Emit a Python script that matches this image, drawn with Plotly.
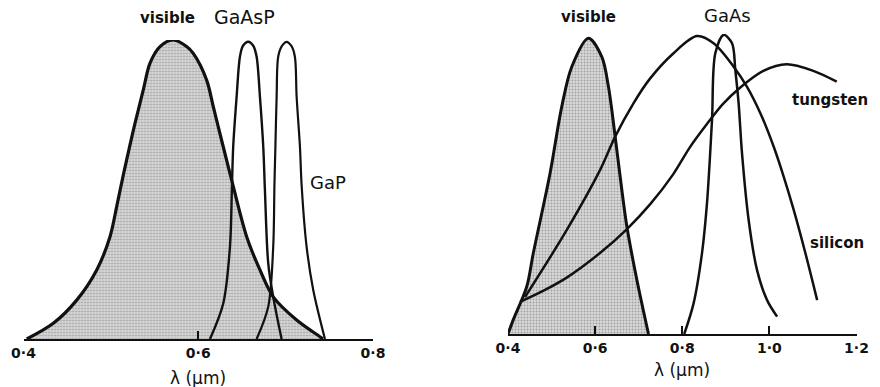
import plotly.graph_objects as go

# ---------------- Left panel data (wavelength in um, relative response) ----------------
vis_left_x = [0.4037, 0.4341, 0.4609, 0.4838, 0.4990, 0.5070, 0.5150, 0.5219, 0.5276, 0.5371, 0.5447, 0.5562,
              0.5714, 0.5867, 0.5943, 0.6096, 0.6172, 0.6286, 0.6382, 0.6554, 0.6706, 0.6858,
              0.7126, 0.7392, 0.7427]
vis_left_y = [0.0, 0.0525, 0.130, 0.231, 0.342, 0.448, 0.559, 0.649, 0.721, 0.833, 0.922, 0.978,
              1.0, 0.978, 0.955, 0.866, 0.777, 0.643, 0.532, 0.342, 0.231, 0.141,
              0.0635, 0.0077, 0.0]

gaasp_x = [0.6134, 0.6286, 0.6363, 0.6386, 0.6400, 0.6439, 0.6477, 0.6511, 0.6572, 0.6631,
           0.6668, 0.6706, 0.6744, 0.6763, 0.6801, 0.6858, 0.6954]
gaasp_y = [0.0, 0.119, 0.309, 0.515, 0.643, 0.810, 0.944, 0.980, 0.994, 0.980,
           0.944, 0.810, 0.643, 0.498, 0.253, 0.141, 0.0]

gap_x = [0.6668, 0.6801, 0.6858, 0.6872, 0.6883, 0.6897, 0.6915, 0.6958, 0.7011, 0.7066,
         0.7106, 0.7126, 0.7164, 0.7183, 0.7240, 0.7316, 0.7450]
gap_y = [0.0, 0.108, 0.309, 0.515, 0.643, 0.810, 0.944, 0.980, 0.994, 0.980,
         0.944, 0.810, 0.643, 0.515, 0.309, 0.164, 0.0]

left_ticks = [0.4, 0.6, 0.8]
left_ticktext = ["0·4", "0·6", "0·8"]

# ---------------- Right panel data ----------------
vis_right_x = [0.400, 0.412, 0.443, 0.458, 0.4966, 0.5234, 0.5464, 0.5846, 0.6154, 0.6306,
               0.646, 0.6575, 0.6729, 0.6959, 0.7225]
vis_right_y = [0.0, 0.047, 0.158, 0.269, 0.536, 0.758, 0.891, 0.986, 0.924, 0.824,
               0.658, 0.524, 0.358, 0.180, 0.0]

silicon_x = [0.439, 0.535, 0.6115, 0.646, 0.688, 0.7264, 0.780, 0.8338, 0.872, 0.918,
             0.9487, 0.9793, 1.010, 1.033, 1.056, 1.0828, 1.1097]
silicon_y = [0.123, 0.347, 0.547, 0.658, 0.769, 0.852, 0.936, 0.993, 0.969, 0.891,
             0.824, 0.736, 0.624, 0.524, 0.413, 0.269, 0.113]

tungsten_x = [0.4276, 0.485, 0.5348, 0.6112, 0.6725, 0.726, 0.7795, 0.8178, 0.8562, 0.8936,
              0.9326, 0.9861, 1.0398, 1.1009, 1.1546]
tungsten_y = [0.107, 0.147, 0.188, 0.270, 0.349, 0.432, 0.533, 0.623, 0.699, 0.767,
              0.821, 0.877, 0.899, 0.877, 0.841]

gaas_x = [0.8046, 0.826, 0.8453, 0.8568, 0.8683, 0.8759, 0.895, 0.9143, 0.9218, 0.9294,
          0.9372, 0.9524, 0.9717, 0.9947, 1.0177]
gaas_y = [0.0, 0.102, 0.269, 0.436, 0.713, 0.936, 0.997, 0.969, 0.880, 0.769,
          0.602, 0.380, 0.213, 0.113, 0.058]

right_ticks = [0.4, 0.6, 0.8, 1.0, 1.2]
right_ticktext = ["0·4", "0·6", "0·8", "1·0", "1·2"]

# ---------------- Figure ----------------
W, H = 880, 387
INK = "#111111"
FONT = "DejaVu Sans"
stipple = dict(shape=".", fgcolor="#6a6a6a", bgcolor="#d9d9d9", size=3, solidity=0.35)

fig = go.Figure()

def curve(x, y, xa, ya, width, fill=False):
    kw = dict(x=x, y=y, xaxis=xa, yaxis=ya, mode="lines",
              line=dict(color=INK, width=width, shape="spline", smoothing=0.9),
              hoverinfo="skip", showlegend=False)
    if fill:
        kw.update(fill="tozeroy", fillcolor="#d0d0d0", fillpattern=stipple)
    fig.add_trace(go.Scatter(**kw))

# left panel
curve(vis_left_x, vis_left_y, "x", "y", 3.2, fill=True)
curve(gaasp_x, gaasp_y, "x", "y", 2.4)
curve(gap_x, gap_y, "x", "y", 2.2)
# right panel
curve(vis_right_x, vis_right_y, "x2", "y2", 3.0, fill=True)
curve(silicon_x, silicon_y, "x2", "y2", 2.5)
curve(tungsten_x, tungsten_y, "x2", "y2", 2.5)
curve(gaas_x, gaas_y, "x2", "y2", 2.5)

xcommon = dict(showgrid=False, zeroline=False, showline=True, linecolor=INK, linewidth=2.2,
               ticks="inside", ticklen=8, tickwidth=2, tickcolor=INK,
               tickfont=dict(family=FONT, size=14, color=INK, weight="bold"),
               automargin=False, fixedrange=True)
ycommon = dict(showgrid=False, zeroline=False, showline=False, showticklabels=False,
               ticks="", range=[0, 1], automargin=False, fixedrange=True)

fig.update_layout(
    width=W, height=H, autosize=False,
    margin=dict(l=0, r=0, t=0, b=0, pad=0, autoexpand=False),
    paper_bgcolor="white", plot_bgcolor="white",
    xaxis=dict(domain=[23.5 / W, 373 / W], range=[0.4, 0.8],
               tickvals=left_ticks, ticktext=left_ticktext, anchor="y", **xcommon),
    yaxis=dict(domain=[48 / H, 347 / H], anchor="x", **ycommon),
    xaxis2=dict(domain=[508 / W, 856.5 / W], range=[0.4, 1.2],
                tickvals=right_ticks, ticktext=right_ticktext, anchor="y2", **xcommon),
    yaxis2=dict(domain=[53 / H, 353 / H], anchor="x2", **ycommon),
)

def label(text, x, y, xref, yref, size, bold=False):
    fig.add_annotation(text=text, x=x, y=y, xref=xref, yref=yref, showarrow=False,
                       xanchor="center", yanchor="middle",
                       font=dict(family=FONT, size=size, color=INK,
                                 weight="bold" if bold else "normal"))

# left panel labels (y given as fraction of the panel's height)
label("visible", 0.5653, 1.074, "x", "y domain", 15, bold=True)
label("GaAsP", 0.6534, 1.077, "x", "y domain", 19)
label("GaP", 0.7484, 0.522, "x", "y domain", 18)
label("λ (µm)", 0.5, (H - 378) / H, "x domain", "paper", 17)
# right panel labels
label("visible", 0.5837, 1.057, "x2", "y2 domain", 15, bold=True)
label("GaAs", 0.9028, 1.063, "x2", "y2 domain", 18)
label("tungsten", 1.139, 0.78, "x2", "y2 domain", 15, bold=True)
label("silicon", 1.155, 0.303, "x2", "y2 domain", 15, bold=True)
label("λ (µm)", 0.5, (H - 370) / H, "x2 domain", "paper", 17)

fig.write_html("out.html", config={"responsive": False, "displayModeBar": False},
               post_script="document.body.style.margin='0';document.body.style.overflow='hidden';")
